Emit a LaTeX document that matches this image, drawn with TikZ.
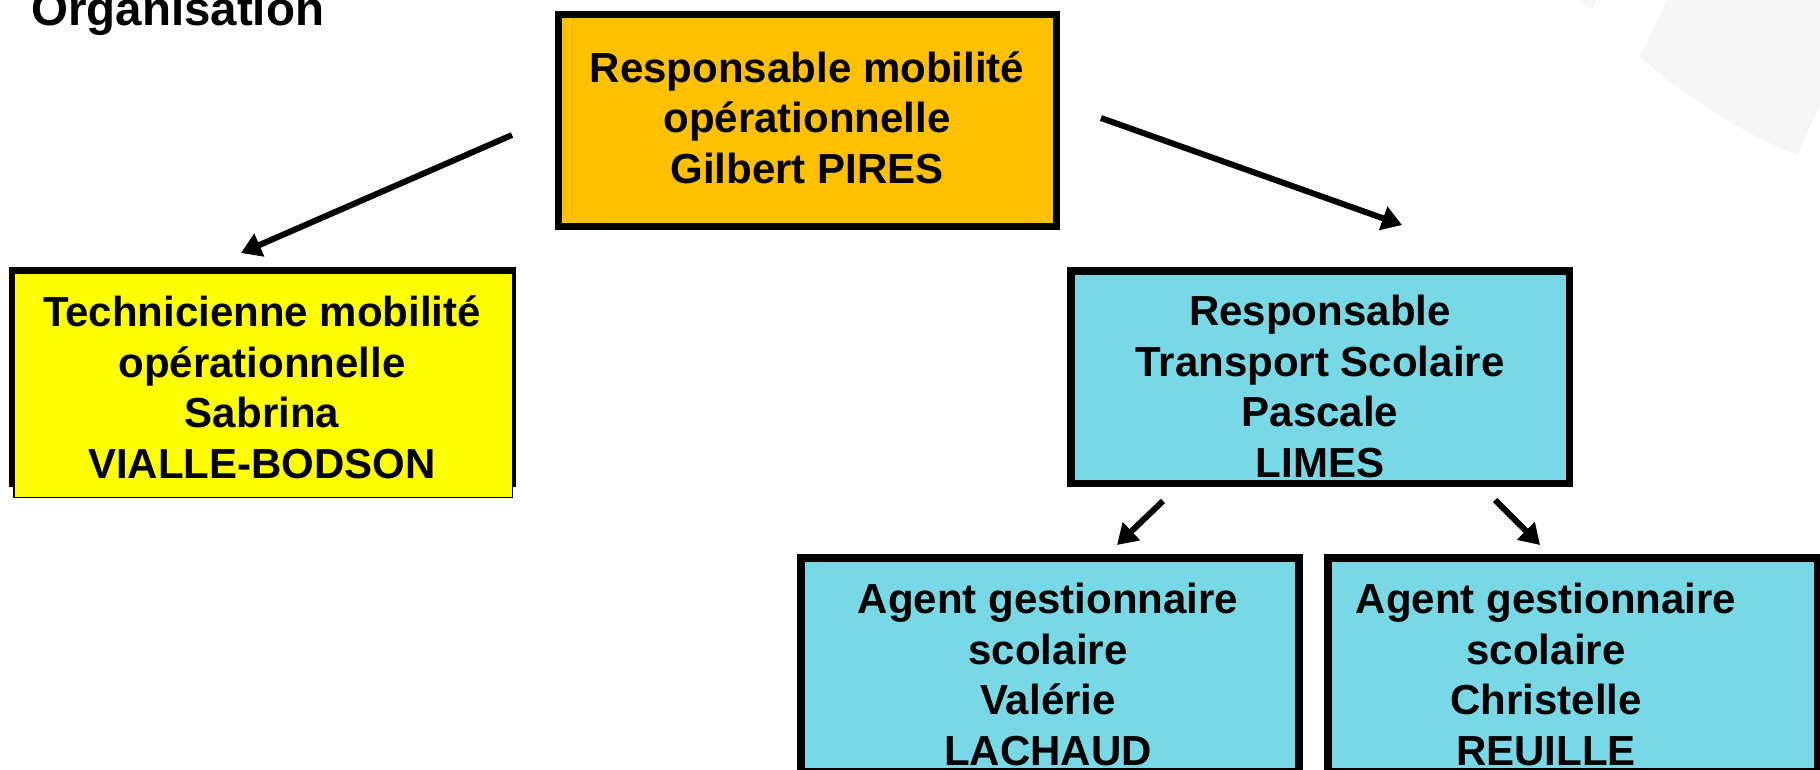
\documentclass[tikz,border=0pt]{standalone}
\usepackage{fontspec}
\setmainfont{Liberation Sans}
\usetikzlibrary{arrows.meta}
\definecolor{orangeC}{HTML}{FFC000}
\definecolor{yellowC}{HTML}{FFFF00}
\definecolor{cyanC}{HTML}{78D8E6}
\definecolor{greyC}{HTML}{F6F6F6}
\begin{document}
\begin{tikzpicture}[x=1pt,y=-1pt,
  box/.style={draw=black, line width=7.5pt, inner sep=0pt, outer sep=0pt},
  txt/.style={align=center, inner sep=0pt, font=\bfseries\fontsize{42}{50.5}\selectfont},
  arr/.style={line width=6pt, -{Triangle[length=20pt,width=24pt]}}
]
\useasboundingbox (0,0) rectangle (1820,769);
\clip (0,0) rectangle (1820,769);
% background decoration
\fill[greyC] (1667,0) -- (1640,57) .. controls (1700,110) and (1760,140) .. (1797,155) -- (1820,105) -- (1820,0) -- cycle;
\fill[greyC] (1580,0) -- (1598,0) -- (1592,10) -- cycle;
% title
\node[anchor=base west, inner sep=0pt, font=\bfseries\fontsize{47.5}{55}\selectfont] (title) at (31,25) {Organisation};
% boxes
\node[box, fill=orangeC, minimum width=498, minimum height=212] (chef) at (807.5,120.5) {};
\node[txt] (chefT) at (807,122.7) {\strut Responsable mobilité\\\strut opérationnelle\\\strut Gilbert PIRES};

\node[fill=black, inner sep=0pt, minimum width=507, minimum height=220] (techS) at (262.5,377) {};
\node[draw=black, line width=1.5pt, fill=yellowC, inner sep=0pt, minimum width=498.5, minimum height=224.5] (tech) at (263,385) {};
\node[txt] (techT) at (262,392.4) {\strut Technicienne mobilité\\\strut opérationnelle\\\strut Sabrina\\\strut VIALLE-BODSON};

\node[box, fill=cyanC, minimum width=498.5, minimum height=212.5] (resp) at (1320,377) {};
\node[txt] (respT) at (1320,391.4) {\strut Responsable\\\strut Transport Scolaire\\\strut Pascale\\\strut LIMES};

\node[box, line width=8pt, fill=cyanC, minimum width=498, minimum height=214] (ag1) at (1050,665) {};
\node[txt] (ag1T) at (1048,679.4) {\strut Agent gestionnaire\\\strut scolaire\\\strut Valérie\\\strut LACHAUD};

\node[box, line width=8pt, fill=cyanC, minimum width=490, minimum height=214] (ag2) at (1573,665) {};
\node[txt] (ag2T) at (1546,679.4) {\strut Agent gestionnaire\\\strut scolaire\\\strut Christelle\\\strut REUILLE};

% arrows
\coordinate (a1s) at (512,135); \coordinate (a1e) at (241,253);
\coordinate (a2s) at (1101,118); \coordinate (a2e) at (1402,225);
\coordinate (a3s) at (1163,501); \coordinate (a3e) at (1117,545);
\coordinate (a4s) at (1495,500); \coordinate (a4e) at (1540,545);
\draw[arr] (a1s) -- (a1e);
\draw[arr] (a2s) -- (a2e);
\draw[arr] (a3s) -- (a3e);
\draw[arr] (a4s) -- (a4e);
\end{tikzpicture}
\end{document}
